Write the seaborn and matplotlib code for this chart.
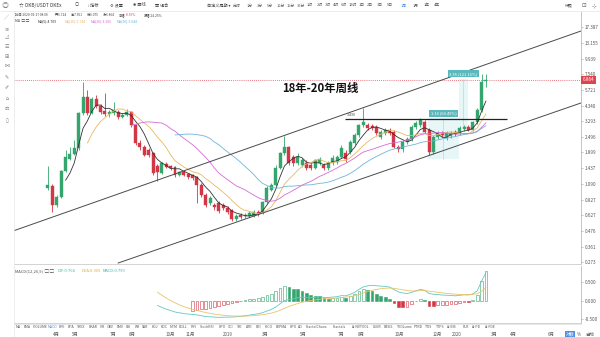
import numpy as np
import pandas as pd
import matplotlib
matplotlib.use("Agg")
import matplotlib.pyplot as plt
import matplotlib.transforms as mtransforms
from matplotlib.patches import Rectangle
import seaborn as sns

sns.set_theme(style="white")
plt.rcParams['font.family'] = ['Noto Sans CJK SC', 'DejaVu Sans']
plt.rcParams['axes.unicode_minus'] = False

# ---- weekly OKB/USDT candles (first week 2018-03-19, last week 2020-02-17) ----
opens = [1.015, 1.05, 0.752, 0.866, 1.37, 1.69, 1.85, 2.06, 3.81, 5.06,
         3.81, 4.88, 4.31, 3.95, 3.75, 3.81, 3.88, 3.55, 3.68, 3.88,
         3.09, 2.25, 2.09, 1.985, 1.88, 1.50, 1.32, 1.55, 1.50, 1.47,
         1.28, 1.35, 1.30, 1.28, 1.23, 1.07, 0.897, 0.779, 0.752, 0.779,
         0.752, 0.713, 0.689, 0.587, 0.630, 0.619, 0.619, 0.619, 0.665, 0.665,
         0.793, 0.98, 1.07, 1.44, 1.88, 2.09, 1.75, 1.58, 1.52, 1.58,
         1.52, 1.44, 1.58, 1.52, 1.44, 1.58, 1.61, 1.75, 1.88, 1.92,
         2.25, 2.59, 3.09, 3.09, 3.03, 2.98, 2.50, 2.68, 2.82, 2.73,
         2.09, 2.02, 2.29, 2.41, 2.98, 3.09, 3.25, 2.82, 1.92, 2.50,
         2.68, 2.50, 2.54, 2.73, 2.68, 2.87, 2.98, 2.82, 3.25, 4.02,
         6.724]
closes = [1.07, 0.752, 0.866, 1.37, 1.75, 1.85, 2.06, 3.81, 5.06, 3.81,
          4.88, 4.31, 3.88, 3.75, 3.88, 4.02, 3.55, 3.68, 3.88, 3.09,
          2.25, 2.09, 1.82, 1.82, 1.32, 1.35, 1.58, 1.47, 1.44, 1.28,
          1.35, 1.28, 1.23, 1.21, 1.07, 0.897, 0.752, 0.851, 0.726, 0.677,
          0.713, 0.665, 0.587, 0.619, 0.608, 0.630, 0.653, 0.665, 0.642, 0.793,
          1.015, 1.07, 1.44, 1.88, 2.09, 1.58, 1.58, 1.75, 1.66, 1.44,
          1.44, 1.66, 1.69, 1.44, 1.58, 1.72, 1.75, 2.06, 1.69, 2.29,
          2.59, 3.09, 3.25, 2.93, 2.93, 2.68, 2.73, 2.82, 2.68, 2.09,
          2.02, 2.29, 2.41, 2.98, 3.20, 3.37, 2.73, 1.92, 2.50, 2.68,
          2.59, 2.68, 2.68, 2.63, 2.93, 2.98, 2.82, 3.25, 4.02, 6.59,
          6.864]
highs = [1.50, 1.09, 0.897, 1.39, 1.985, 2.09, 2.37, 3.88, 6.59, 5.72,
         5.06, 5.24, 4.47, 5.43, 4.02, 4.63, 4.02, 3.81, 4.09, 3.95,
         3.14, 2.37, 2.17, 2.06, 1.92, 1.55, 1.61, 1.61, 1.52, 1.50,
         1.37, 1.39, 1.32, 1.30, 1.25, 1.11, 0.929, 0.882, 0.779, 0.807,
         0.779, 0.739, 0.701, 0.642, 0.653, 0.653, 0.677, 0.689, 0.689, 0.807,
         1.05, 1.11, 1.52, 1.92, 2.54, 2.13, 1.82, 1.88, 1.72, 1.66,
         1.58, 1.69, 1.75, 1.58, 1.63, 1.82, 1.82, 2.17, 1.985, 2.37,
         2.68, 3.14, 4.16, 3.20, 3.14, 3.09, 2.82, 2.93, 2.93, 2.82,
         2.17, 2.37, 2.50, 3.09, 3.31, 3.49, 3.37, 2.93, 2.59, 2.78,
         2.78, 2.78, 2.78, 2.82, 3.03, 3.09, 3.09, 3.31, 4.16, 7.551,
         7.551]
lows = [0.98, 0.665, 0.726, 0.851, 1.35, 1.66, 1.82, 1.985, 3.68, 3.68,
        3.75, 4.16, 3.75, 3.62, 3.55, 3.68, 3.43, 3.49, 3.62, 2.98,
        2.17, 1.985, 1.79, 1.75, 1.28, 1.15, 1.30, 1.44, 1.39, 1.23,
        1.25, 1.25, 1.19, 1.17, 0.779, 0.866, 0.726, 0.752, 0.689, 0.653,
        0.689, 0.642, 0.567, 0.567, 0.587, 0.598, 0.608, 0.608, 0.619, 0.642,
        0.779, 0.963, 1.05, 1.42, 1.82, 1.52, 1.50, 1.52, 1.47, 1.39,
        1.39, 1.42, 1.52, 1.39, 1.39, 1.52, 1.55, 1.72, 1.61, 1.85,
        2.17, 2.50, 2.98, 2.82, 2.82, 2.59, 2.41, 2.59, 2.59, 2.06,
        1.92, 1.92, 2.21, 2.33, 2.87, 2.98, 2.68, 1.82, 1.85, 2.41,
        2.50, 2.37, 2.45, 2.54, 2.59, 2.78, 2.78, 2.78, 3.14, 3.88,
        6.075]

price_ticks = [17.387, 13.155, 9.939, 7.540, 5.721, 4.340, 3.293, 2.496,
               1.899, 1.437, 1.090, 0.827, 0.627, 0.476, 0.361, 0.273]
last_price = 6.864

# hand-drawn channel (week index, price)
channel_upper = ([-8.0, 121.7], [0.475, 16.2])
channel_lower = ([16.0, 121.7], [0.270, 4.55])
resistance = (67.8, 104.8, 3.43)

# price-range measurements: (start week, end week, low, high, label)
ranges = [(86.8, 93.8, 1.69, 3.49, "1.16 (60.49%)"),
          (93.8, 95.9, 2.93, 6.99, "3.55 (121.16%)")]

month_names = ["4月", "5月", "7月", "8月", "10月", "11月", "2019", "3月", "5月",
               "7月", "8月", "10月", "12月", "2020", "3月", "4月", "6月"]
month_dates = ["2018-04-01", "2018-05-01", "2018-07-01", "2018-08-01", "2018-10-01",
               "2018-11-01", "2019-01-01", "2019-03-01", "2019-05-01", "2019-07-01",
               "2019-08-01", "2019-10-01", "2019-12-01", "2020-01-01", "2020-03-01",
               "2020-04-01", "2020-06-01"]
first_week = "2018-03-19"

UP, DOWN = "#35a56e", "#d33645"
MA_COLORS = {5: "#333333", 10: "#eab862", 20: "#d66bd6", 30: "#6db6da"}

df = pd.DataFrame({"open": opens, "high": highs, "low": lows, "close": closes})
df["i"] = np.arange(len(df))
for n in MA_COLORS:
    df[f"ma{n}"] = df["close"].rolling(n).mean()

ema12 = df["close"].ewm(span=12, adjust=False).mean()
ema26 = df["close"].ewm(span=26, adjust=False).mean()
df["dif"] = ema12 - ema26
df["dea"] = df["dif"].ewm(span=9, adjust=False).mean()
df["hist"] = 2 * (df["dif"] - df["dea"])
df.loc[df.index < 25, ["dif", "dea"]] = np.nan
df.loc[df.index < 33, "hist"] = np.nan

W, H = 600, 337
fig = plt.figure(figsize=(W / 100, H / 100), dpi=100)
fig.patch.set_facecolor("white")


def box(l, t, r, b):
    return [l / W, 1 - b / H, (r - l) / W, (b - t) / H]


ax = fig.add_axes(box(14, 12, 581, 264))
axm = fig.add_axes(box(14, 266, 581, 323), sharex=ax)
XMIN, XMAX = -7.76, 121.7

# ---- candles ----
up = df["close"] >= df["open"]
for mask, col in ((up, UP), (~up, DOWN)):
    d = df[mask]
    ax.vlines(d["i"], d["low"], d["high"], color=col, lw=0.6, zorder=3)
    lo = np.minimum(d["open"], d["close"])
    hi = np.maximum(d["open"], d["close"])
    hgt = np.maximum(hi - lo, lo * 0.01)
    ax.bar(d["i"], hgt, bottom=lo, width=0.68, color=col, edgecolor=col,
           linewidth=0.3, zorder=4)

for n, col in MA_COLORS.items():
    sns.lineplot(x=df["i"], y=df[f"ma{n}"], ax=ax, color=col, lw=0.6, zorder=5)

ax.plot(*channel_upper, color="#4a4a4a", lw=0.7, zorder=6)
ax.plot(*channel_lower, color="#4a4a4a", lw=0.7, zorder=6)
ax.hlines(resistance[2], resistance[0], resistance[1], color="#222222", lw=0.9, zorder=6)
ax.text(resistance[0] + 0.5, resistance[2] * 1.04, "3.430", fontsize=2.6,
        color="#444444", ha="left", va="bottom")

for x0, x1, p0, p1, lab in ranges:
    ax.add_patch(Rectangle((x0, p0), x1 - x0, p1 - p0, facecolor="#7fd0d3",
                           alpha=0.18, edgecolor="none", zorder=2))
    ax.vlines((x0 + x1) / 2, p0, p1, color="#7ab", lw=0.4, ls=(0, (1, 1)), zorder=2)
    ax.text((x0 + x1) / 2, p1 * 1.05, lab, fontsize=3.0, color="white",
            ha="center", va="bottom", zorder=8,
            bbox=dict(boxstyle="square,pad=0.35", facecolor="#5ab9bd", edgecolor="none"))

ax.axhline(last_price, color="#e0505e", lw=0.6, ls=(0, (1, 1.5)), zorder=1)

ax.set_yscale("log")
ax.set_ylim(0.2655, 22.65)
ax.set_xlim(XMIN, XMAX)
ax.yaxis.tick_right()
ax.set_yticks(price_ticks)
ax.set_yticklabels([f"{v:.3f}" for v in price_ticks])
ax.yaxis.set_minor_locator(matplotlib.ticker.NullLocator())
ax.tick_params(axis="y", labelsize=3.3, labelcolor="#555555", length=1.5, width=0.4,
               color="#999999", pad=1.2, right=True)
ax.tick_params(axis="x", bottom=False, labelbottom=False)
ax.set_xlabel("")
ax.set_ylabel("")
for s in ("top", "left"):
    ax.spines[s].set_visible(False)
ax.spines["right"].set_color("#bbbbbb")
ax.spines["right"].set_linewidth(0.6)
ax.spines["bottom"].set_color("#cccccc")
ax.spines["bottom"].set_linewidth(0.6)

trans = mtransforms.blended_transform_factory(ax.transAxes, ax.transData)
ax.text(1.003, last_price, f"{last_price:.3f}", transform=trans, fontsize=3.3,
        color="white", ha="left", va="center", zorder=10,
        bbox=dict(boxstyle="square,pad=0.3", facecolor="#e0434f", edgecolor="none"))

# ---- MACD ----
hist = df["hist"]
prev = hist.shift(1)
for i, v in hist.items():
    if np.isnan(v):
        continue
    rising = np.isnan(prev[i]) or v >= prev[i]
    col = UP if v >= 0 else DOWN
    fill = not rising
    axm.bar(i, v, width=0.62, color=col if fill else "white", edgecolor=col,
            linewidth=0.4, zorder=3)
sns.lineplot(x=df["i"], y=df["dif"], ax=axm, color="#62c9bf", lw=0.6, zorder=4)
sns.lineplot(x=df["i"], y=df["dea"], ax=axm, color="#e8c36a", lw=0.6, zorder=4)
axm.set_ylim(-0.595, 0.946)
axm.set_xlim(XMIN, XMAX)
axm.yaxis.tick_right()
axm.set_yticks([0.5, 0.0, -0.5])
axm.set_yticklabels(["0.500", "0.000", "-0.500"])
axm.tick_params(axis="y", labelsize=3.3, labelcolor="#555555", length=1.5, width=0.4,
                color="#999999", pad=1.2, right=True)
axm.tick_params(axis="x", bottom=False, labelbottom=False)
axm.set_xlabel("")
axm.set_ylabel("")
for s in ("top", "left"):
    axm.spines[s].set_visible(False)
axm.spines["right"].set_color("#bbbbbb")
axm.spines["right"].set_linewidth(0.6)
axm.spines["bottom"].set_color("#cccccc")
axm.spines["bottom"].set_linewidth(0.6)

last = df.iloc[-1]
fig.text(15 / W, 1 - 268.5 / H, "MACD(12,26,9)  ▢ ▢", fontsize=3.0, color="#555555",
         ha="left", va="top")
fig.text(58 / W, 1 - 268.5 / H, f"DIF:{last['dif']:.3f}", fontsize=3.0, color="#3fb8aa",
         ha="left", va="top")
fig.text(82 / W, 1 - 268.5 / H, f"DEA:{last['dea']:.3f}", fontsize=3.0, color="#d8ad3a",
         ha="left", va="top")
fig.text(103 / W, 1 - 268.5 / H, f"MACD:{last['hist']:.3f}", fontsize=3.0, color="#3fb8aa",
         ha="left", va="top")

# ---- month labels ----
start = pd.Timestamp(first_week)
for name, d in zip(month_names, month_dates):
    wk = (pd.Timestamp(d) - start).days / 7
    xp = 14 + (wk - XMIN) / (XMAX - XMIN) * 567
    fig.text(xp / W, 1 - 334 / H, name, fontsize=3.2, color="#555555", ha="center", va="center")
fig.text(570 / W, 1 - 334 / H, "对数", fontsize=3.2, color="white", ha="center", va="center",
         bbox=dict(boxstyle="square,pad=0.2", facecolor="#4d8fe0", edgecolor="none"))
fig.text(579 / W, 1 - 334 / H, "%", fontsize=3.2, color="#555555", ha="center", va="center")
fig.text(590 / W, 1 - 334 / H, "自动", fontsize=3.2, color="#555555", ha="center", va="center")

indicators = ["MA", "EMA", "VOLUME", "MACD", "DFE", "BPA", "TREX", "BKAR", "VR", "OBV",
              "EMV", "RSI", "WR", "SAR", "KDJ", "ROC", "MTM", "BOLL", "PSY", "StochRSI",
              "DPO", "CCI", "TRI", "ATR", "BBI", "IKCO", "EXPMA", "DPO", "AO", "FractalChaos",
              "Fractals", "AI-NVTVOL", "LSUR", "BASIS", "TVOLume", "PTRD", "TTIS", "TTPS",
              "AI-BIS", "RLR", "AI-PD", "AI-FDE"]
fig.add_artist(plt.Line2D([14 / W, 581 / W], [1 - 324 / H] * 2, color="#dddddd", lw=0.5))
xp = 16
for name in indicators:
    col = "#4d8fe0" if name == "MACD" else "#555555"
    fig.text(xp / W, 1 - 327.5 / H, name, fontsize=2.5, color=col, ha="left", va="center")
    xp += len(name) * 1.95 + 3.4

# ---- header ----
fig.add_artist(plt.Line2D([0, 1], [1 - 11 / H] * 2, color="#e6e6e6", lw=0.5))
fig.add_artist(plt.Line2D([14 / W] * 2, [0, 1 - 11 / H], color="#e6e6e6", lw=0.5))
fig.text(5 / W, 1 - 5.5 / H, "◎", fontsize=5, color="#888888", ha="center", va="center")
fig.text(19 / W, 1 - 5.5 / H, "☆ OKB/USDT OKEx", fontsize=3.4, color="#333333",
         ha="left", va="center")
header = [(75, "○"), (88, "⁞ 指标"), (110, "⚙ 设置"), (133, "✱ 画线"), (155, "▦ 组合"),
          (207, "自定义周期 ▾")]
for xh, s in header:
    fig.text(xh / W, 1 - 5.5 / H, s, fontsize=3.0, color="#444444", ha="left", va="center")
periods = ["分时", "1分", "3分", "5分", "10分", "15分", "30分", "1时", "2时", "3时", "4时",
           "6时", "12时", "1日", "2日", "3日", "5日", "1周", "1月", "1年", "4年"]
period_x = [233, 247, 257, 267, 277, 287, 297, 307, 317, 325, 333, 341, 349, 359, 367,
            377, 387, 401, 413, 424, 434]
for xh, s in zip(period_x, periods):
    fig.text(xh / W, 1 - 5.5 / H, s, fontsize=2.8, color="#4d8fe0" if s == "1周" else "#555555",
             ha="left", va="center")
fig.text(565 / W, 1 - 5.5 / H, "快照", fontsize=2.8, color="#555555", ha="left", va="center")
fig.text(582 / W, 1 - 5.5 / H, "⊡", fontsize=4, color="#666666", ha="left", va="center")
fig.text(592 / W, 1 - 5.5 / H, "⊹", fontsize=4, color="#666666", ha="left", va="center")

# info rows (fixed-width slots so the small texts never collide)
info_y = 1 - 15 / H
for xi, s in [(15, "时间:2020-02-17 08:00"), (55, "开:6.724"), (71, "高:7.551"),
              (87, "低:6.075"), (103, "收:6.864"), (119, "涨幅:"), (144, "振幅:24.25%")]:
    fig.text(xi / W, info_y, s, fontsize=2.3, color="#444444", ha="left", va="center")
fig.text(126 / W, info_y, "-0.59%", fontsize=2.3, color="#e0434f", ha="left", va="center")
ma_y = 1 - 21 / H
fig.text(15 / W, ma_y, "MA  ▢ ▢", fontsize=2.5, color="#444444", ha="left", va="center")
for xm, (n, col) in zip([38, 65, 91, 117], MA_COLORS.items()):
    fig.text(xm / W, ma_y, f"MA({n}):{df[f'ma{n}'].iloc[-1]:.3f}", fontsize=2.5, color=col,
             ha="left", va="center")

fig.text(320 / W, 1 - 88 / H, "18年-20年周线", fontsize=8.2, fontweight="bold",
         color="#111111", ha="center", va="center")

# left drawing toolbar
for yy, s in [(17, "╱"), (29, "≋"), (37, "◿"), (46, "☰"), (56, "⊞"), (65, "⋈"),
              (78, "✎"), (88, "✐"), (98, "⌂"), (108, "⚖"), (121, "▯")]:
    fig.text(7 / W, 1 - yy / H, s, fontsize=3.6, color="#777777", ha="center", va="center")

fig.savefig("out.png", dpi=100, facecolor="white")
